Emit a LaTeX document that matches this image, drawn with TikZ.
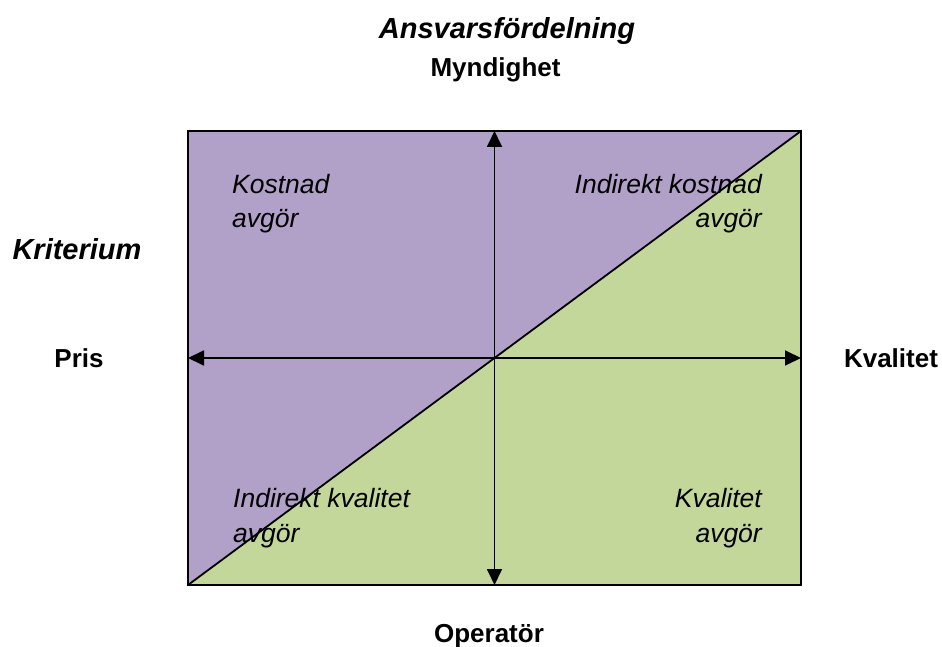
\documentclass[tikz,border=0pt]{standalone}
\usepackage{fontspec}
\setmainfont{Liberation Sans}
\usetikzlibrary{arrows.meta}
\definecolor{lila}{HTML}{B1A0C7}
\definecolor{gron}{HTML}{C4D79B}

\begin{document}
\begin{tikzpicture}[x=1pt,y=-1pt,
  axel/.style={line width=1.8pt,{Triangle[length=16pt,width=15pt]}-{Triangle[length=16pt,width=15pt]}},
  rubrik/.style={font=\fontsize{26}{31}\selectfont\bfseries},
  falt/.style={font=\fontsize{26.5}{35}\selectfont\itshape}]
\useasboundingbox (0,0) rectangle (942,647);

\coordinate (nw) at (188,131);
\coordinate (ne) at (801,131);
\coordinate (sw) at (188,585);
\coordinate (se) at (801,585);
\coordinate (mitt) at (494.5,358);

\fill[lila] (sw) -- (nw) -- (ne) -- cycle;
\fill[gron] (sw) -- (se) -- (ne) -- cycle;
\draw[line width=1.8pt] (sw) -- (ne);
\draw[line width=2pt] (nw) rectangle (se);

\draw[axel] (nw |- mitt) -- (se |- mitt);
\draw[axel] (mitt |- nw) -- (mitt |- se);

\node[rubrik, font=\fontsize{29}{35}\selectfont\bfseries\itshape, anchor=base] (ansvar) at (507,39) {Ansvarsfördelning};
\node[rubrik, anchor=base] (myndighet) at (495.5,77) {Myndighet};
\node[rubrik, font=\fontsize{29}{35}\selectfont\bfseries\itshape, anchor=base] (kriterium) at (77,259) {Kriterium};
\node[rubrik, anchor=base] (pris) at (79,367) {Pris};
\node[rubrik, anchor=base] (kvalitet) at (891,367) {Kvalitet};
\node[rubrik, anchor=base] (operator) at (489,642) {Operatör};

\node[falt, anchor=base west, align=left, inner sep=0pt] (kostnad) at (232,228) {Kostnad\\avgör};
\node[falt, anchor=base east, align=right, inner sep=0pt] (indkostnad) at (762,228) {Indirekt kostnad\\avgör};
\node[falt, anchor=base west, align=left, inner sep=0pt] (indkvalitet) at (233,542) {Indirekt kvalitet\\avgör};
\node[falt, anchor=base east, align=right, inner sep=0pt] (kvalavgor) at (762,542) {Kvalitet\\avgör};
\end{tikzpicture}
\end{document}
